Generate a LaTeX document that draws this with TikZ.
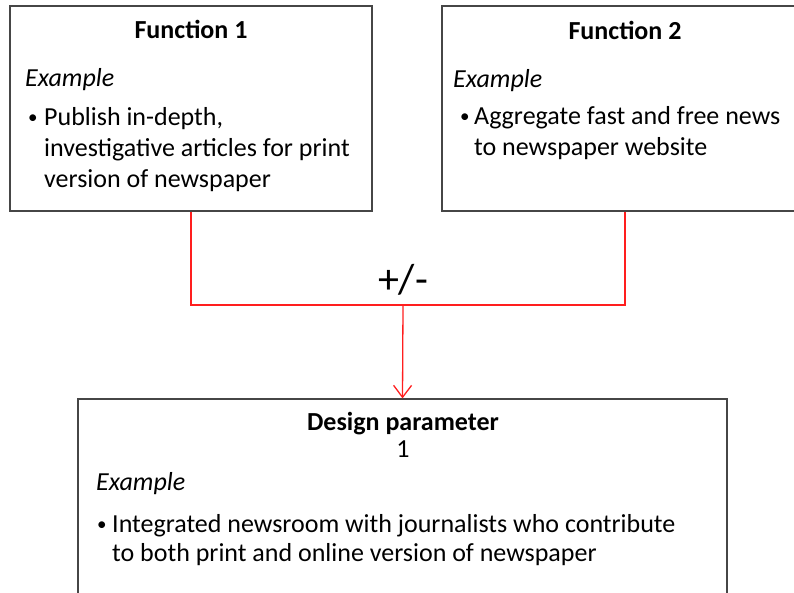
\documentclass[tikz,border=0pt]{standalone}
\usepackage{fontspec}
\setmainfont{Carlito}
\usepackage{tikz}
\usetikzlibrary{arrows.meta}
\definecolor{boxgray}{RGB}{70,70,70}
\definecolor{linkred}{RGB}{255,30,30}

\begin{document}
\begin{tikzpicture}[x=1pt, y=-1pt,
box_style/.style={rectangle,draw=boxgray,line width=1.2pt,inner sep=0pt},
head_style/.style={anchor=base,inner sep=0pt,font=\fontsize{26}{31}\selectfont\bfseries},
ex_style/.style={anchor=base west,inner sep=0pt,font=\fontsize{26}{31}\selectfont\itshape},
dot_style/.style={anchor=base west,inner sep=0pt,font=\fontsize{19}{31}\selectfont},
text_style/.style={anchor=base west,align=left,inner sep=0pt,font=\fontsize{26}{31}\selectfont},
link_style/.style={draw=linkred, line width=1.3pt}]
\useasboundingbox (0,0) rectangle (794,592);

\node[box_style, minimum width=362pt, minimum height=205pt] (func1) at (191,108.5) {};
\node[box_style, minimum width=366pt, minimum height=205pt] (func2) at (625,108.5) {};
\node[box_style, minimum width=649pt, minimum height=212pt] (param) at (402.5,505) {};

% multi-line texts sit on their last baseline
\node[head_style] (func1_head) at (191,38) {Function 1};
\node[ex_style] (func1_ex) at (25,86) {Example};
\node[dot_style] (func1_dot) at (28,123) {\textbullet};
\node[text_style] (func1_txt) at (44,187) {Publish in-depth,\\investigative articles for print\\version of newspaper};

\node[head_style] (func2_head) at (625,39) {Function 2};
\node[ex_style] (func2_ex) at (453,87) {Example};
\node[dot_style] (func2_dot) at (460,122) {\textbullet};
\node[text_style] (func2_txt) at (474,155) {Aggregate fast and free news\\to newspaper website};

\node[head_style] (param_head) at (403,430) {Design parameter};
\node[head_style, font=\fontsize{26}{31}\selectfont] (param_num) at (403,457) {1};
\node[ex_style] (param_ex) at (96,490) {Example};
\node[dot_style] (param_dot) at (97,530) {\textbullet};
\node[text_style, font=\fontsize{26}{29}\selectfont] (param_txt) at (112,561) {Integrated newsroom with journalists who contribute\\to both print and online version of newspaper};

\coordinate (join) at (403,305);
\node[anchor=base, inner sep=0pt, font=\fontsize{42}{48}\selectfont] (sign) at (403,293) {+/-};

\draw[link_style]  (func1.south) |- (join) -| (func2.south);
\draw[link_style, -{Straight Barb[length=12pt, width=18pt]}]  (join) -- (param.north);

\end{tikzpicture}
\end{document}
